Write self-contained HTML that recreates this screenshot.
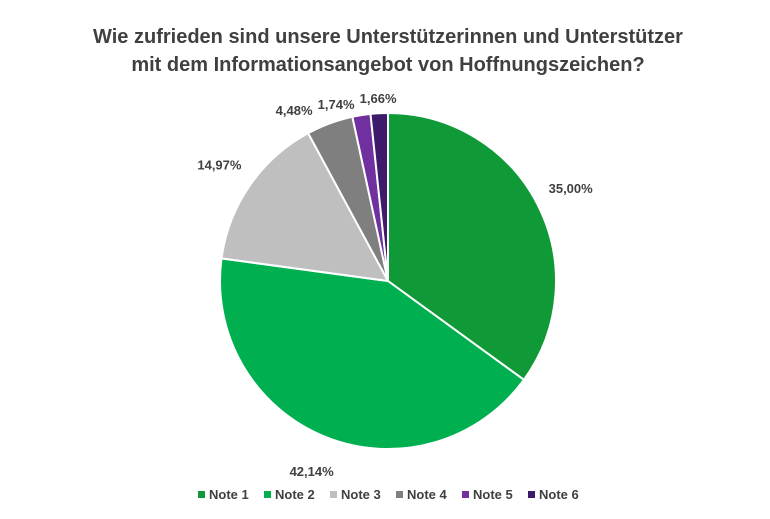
<!DOCTYPE html>
<html><head><meta charset="utf-8"><style>
html,body{margin:0;padding:0;background:#fff;}
body{width:770px;height:514px;overflow:hidden;font-family:"Liberation Sans",sans-serif;}
</style></head><body>
<svg id="chart" width="770" height="514" viewBox="0 0 770 514" xmlns="http://www.w3.org/2000/svg">
<text x="388" y="43" text-anchor="middle" font-size="20" font-weight="bold" fill="#404040">Wie zufrieden sind unsere Unterstützerinnen und Unterstützer</text>
<text x="388" y="71" text-anchor="middle" font-size="20" font-weight="bold" fill="#404040">mit dem Informationsangebot von Hoffnungszeichen?</text>
<g id="slices"></g><g id="labels"></g><g id="legend"></g>
</svg>
<script>
const categories=["Note 1","Note 2","Note 3","Note 4","Note 5","Note 6"];
const values=[35.00,42.14,14.97,4.48,1.74,1.66];
const valueLabels=["35,00%","42,14%","14,97%","4,48%","1,74%","1,66%"];
const colors=["#109a37","#00b050","#bfbfbf","#7f7f7f","#7030a0","#3d1a6a"];
const NS="http://www.w3.org/2000/svg";
const cx=388,cy=281,r=168;
const total=values.reduce((a,b)=>a+b,0);
function pt(a,rad){return [cx+rad*Math.sin(a),cy-rad*Math.cos(a)];}
const sg=document.getElementById('slices'),lg=document.getElementById('labels'),leg=document.getElementById('legend');
let acc=0;const lab=[];
values.forEach((v,i)=>{
 const a0=acc/total*2*Math.PI;acc+=v;const a1=acc/total*2*Math.PI;
 const p0=pt(a0,r),p1=pt(a1,r);
 const p=document.createElementNS(NS,'path');
 p.setAttribute('d',`M${cx},${cy}L${p0[0]},${p0[1]}A${r},${r} 0 ${a1-a0>Math.PI?1:0} 1 ${p1[0]},${p1[1]}Z`);
 p.setAttribute('fill',colors[i]);p.setAttribute('stroke','#fff');p.setAttribute('stroke-width','2');
 
 
 sg.appendChild(p);
 const am=(a0+a1)/2;const small=v<8;
 const q=pt(am,small?190:205);
 lab.push({x:q[0],y:q[1]+5,i});
});
// nudge small top labels apart (right to left)
const smalls=lab.filter(l=>values[l.i]<8).sort((a,b)=>b.x-a.x);
let prevLeft=null;
smalls.forEach(l=>{const w=valueLabels[l.i].length*7.6;if(prevLeft!==null&&l.x+w/2>prevLeft-4){l.x=prevLeft-4-w/2;}prevLeft=l.x-w/2;});
smalls.forEach((l,k)=>{l.y=103+k*6;});
lab.forEach(l=>{
 const t=document.createElementNS(NS,'text');
 t.setAttribute('x',l.x);t.setAttribute('y',l.y);t.setAttribute('text-anchor','middle');
 t.setAttribute('font-size','13');t.setAttribute('font-weight','bold');t.setAttribute('fill','#404040');
 
 
 t.textContent=valueLabels[l.i];lg.appendChild(t);
});
let lx=198;
categories.forEach((c,i)=>{
 const g=document.createElementNS(NS,'g');
 
 
 const s=document.createElementNS(NS,'rect');
 s.setAttribute('x',lx);s.setAttribute('y',491);s.setAttribute('width',7);s.setAttribute('height',7);s.setAttribute('fill',colors[i]);
 const t=document.createElementNS(NS,'text');
 t.setAttribute('x',lx+11);t.setAttribute('y',499);t.setAttribute('font-size','13');t.setAttribute('font-weight','bold');t.setAttribute('fill','#404040');
 t.textContent=c;
 g.appendChild(s);g.appendChild(t);leg.appendChild(g);
 lx+=66;
});
</script>
</body></html>
